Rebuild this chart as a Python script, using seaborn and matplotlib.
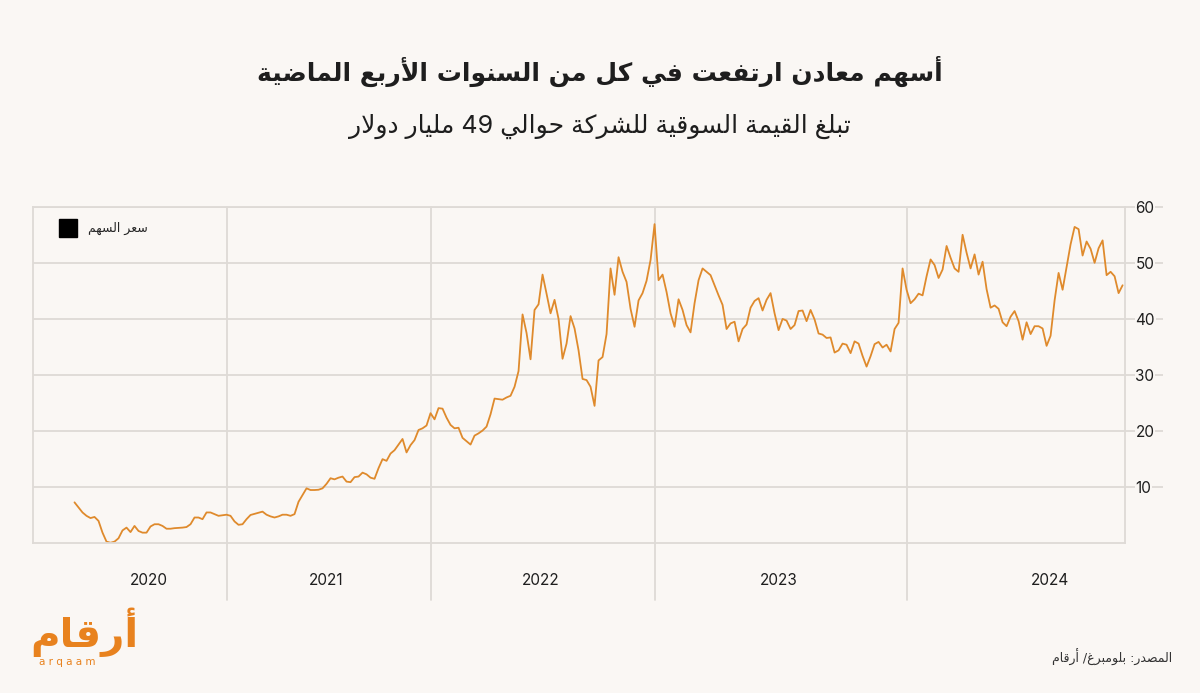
import numpy as np
import pandas as pd
import seaborn as sns
import matplotlib.pyplot as plt
from matplotlib.lines import Line2D

prices_2020 = [7.3, 6.4, 5.5, 4.9, 4.5, 4.7, 4.0, 1.9, 0.3, 0.1, 0.3, 0.9, 2.3, 2.8, 2.0, 3.1,
               2.2, 1.9, 1.9, 3.0, 3.4, 3.4, 3.1, 2.6, 2.6, 2.7, 2.75, 2.8, 2.9, 3.4, 4.6, 4.6,
               4.3, 5.5, 5.5, 5.2, 4.9, 5.0]
prices_2021 = [5.1, 4.9, 3.9, 3.3, 3.4, 4.3, 5.05, 5.25, 5.45, 5.65, 5.1, 4.8, 4.6, 4.8, 5.1,
               5.1, 4.9, 5.2, 7.4, 8.6, 9.8, 9.5, 9.5, 9.55, 9.8, 10.6, 11.6, 11.4, 11.7, 11.9,
               11.0, 10.9, 11.8, 11.9, 12.6, 12.3, 11.7, 11.5, 13.4, 15.0, 14.7, 16.0, 16.6,
               17.6, 18.6, 16.2, 17.5, 18.4, 20.2, 20.5, 21.0]
prices_2022 = [23.2, 22.1, 24.1, 24.0, 22.4, 21.1, 20.5, 20.6, 18.8, 18.2, 17.6, 19.2, 19.6,
               20.1, 20.8, 23.0, 25.8, 25.7, 25.6, 26.0, 26.3, 27.9, 30.7, 40.8, 37.5, 32.8,
               41.6, 42.6, 47.9, 44.5, 41.0, 43.4, 40.0, 32.9, 35.6, 40.5, 38.3, 34.4, 29.3,
               29.1, 27.9, 24.5, 32.6, 33.2, 37.3, 49.0, 44.3, 51.0, 48.4, 46.6, 41.8, 38.6,
               43.3, 44.6, 46.8, 50.5]
prices_2023 = [56.9, 46.9, 47.9, 44.8, 41.0, 38.6, 43.5, 41.6, 38.9, 37.6, 42.8, 46.9, 49.0,
               48.4, 47.8, 46.0, 44.2, 42.5, 38.2, 39.2, 39.5, 36.0, 38.2, 39.0, 42.0, 43.2,
               43.7, 41.5, 43.4, 44.6, 41.0, 38.0, 40.0, 39.7, 38.2, 38.9, 41.4, 41.5, 39.6,
               41.6, 39.9, 37.4, 37.2, 36.6, 36.7, 34.0, 34.4, 35.6, 35.4, 33.9, 36.0, 35.6,
               33.4, 31.5, 33.35, 35.5, 35.9, 34.9, 35.4, 34.2, 38.2, 39.3, 49.0]
prices_2024 = [45.2, 42.8, 43.5, 44.5, 44.2, 47.6, 50.6, 49.6, 47.3, 48.8, 53.0, 50.9, 49.0,
               48.4, 55.0, 51.8, 49.0, 51.5, 47.9, 50.2, 45.3, 42.0, 42.4, 41.8, 39.4, 38.7,
               40.4, 41.4, 39.6, 36.3, 39.4, 37.3, 38.7, 38.7, 38.3, 35.2, 37.0, 43.3, 48.2,
               45.2, 49.2, 53.3, 56.4, 56.0, 51.3, 53.8, 52.5, 50.0, 52.6, 54.0, 47.8, 48.4,
               47.6, 44.6, 46.0]

years = ["2020", "2021", "2022", "2023", "2024"]
yticks = [10, 20, 30, 40, 50, 60]

title = "أسهم معادن ارتفعت في كل من السنوات الأربع الماضية"
subtitle = "تبلغ القيمة السوقية للشركة حوالي 49 مليار دولار"
legend_label = "سعر السهم"
source = "المصدر: بلومبرغ/ أرقام"
logo = "أرقام"

# --- tiny arabic shaper (matplotlib has no complex text layout) ---
FORMS = {
    'ا': (0xFE8D, 2), 'أ': (0xFE83, 2), 'إ': (0xFE87, 2), 'آ': (0xFE81, 2),
    'ب': (0xFE8F, 4), 'ة': (0xFE93, 2), 'ت': (0xFE95, 4), 'ث': (0xFE99, 4),
    'ج': (0xFE9D, 4), 'ح': (0xFEA1, 4), 'خ': (0xFEA5, 4), 'د': (0xFEA9, 2),
    'ذ': (0xFEAB, 2), 'ر': (0xFEAD, 2), 'ز': (0xFEAF, 2), 'س': (0xFEB1, 4),
    'ش': (0xFEB5, 4), 'ص': (0xFEB9, 4), 'ض': (0xFEBD, 4), 'ط': (0xFEC1, 4),
    'ظ': (0xFEC5, 4), 'ع': (0xFEC9, 4), 'غ': (0xFECD, 4), 'ف': (0xFED1, 4),
    'ق': (0xFED5, 4), 'ك': (0xFED9, 4), 'ل': (0xFEDD, 4), 'م': (0xFEE1, 4),
    'ن': (0xFEE5, 4), 'ه': (0xFEE9, 4), 'و': (0xFEED, 2), 'ي': (0xFEF1, 4),
    'ى': (0xFEEF, 2),
}
LAM_ALEF = {'ا': (0xFEFB, 2), 'أ': (0xFEF7, 2), 'إ': (0xFEF9, 2), 'آ': (0xFEF5, 2)}


def shape(text):
    # merge lam-alef into ligatures
    units = []
    i = 0
    while i < len(text):
        c = text[i]
        if c == 'ل' and i + 1 < len(text) and text[i + 1] in LAM_ALEF:
            units.append(LAM_ALEF[text[i + 1]])
            i += 2
            continue
        units.append(FORMS.get(c, c))
        i += 1
    out = []
    for k, u in enumerate(units):
        if not isinstance(u, tuple):
            out.append(u)
            continue
        base, n = u
        prev = units[k - 1] if k > 0 else None
        nxt = units[k + 1] if k + 1 < len(units) else None
        jp = isinstance(prev, tuple) and prev[1] == 4
        jn = n == 4 and isinstance(nxt, tuple)
        if jp and jn:
            out.append(chr(base + 3))
        elif jn:
            out.append(chr(base + 2))
        elif jp:
            out.append(chr(base + 1))
        else:
            out.append(chr(base))
    vis = ''.join(out)[::-1]
    # keep digit runs left-to-right
    res, run = '', ''
    for ch in vis:
        if ch.isdigit():
            run += ch
        else:
            res += run[::-1] + ch
            run = ''
    return res + run[::-1]


# --- data frame ---
parts = [prices_2020, prices_2021, prices_2022, prices_2023, prices_2024]
rows = []
for yr, vals in zip(years, parts):
    for v in vals:
        rows.append((yr, v))
df = pd.DataFrame(rows, columns=["year", "price"])
df["idx"] = np.arange(len(df))
counts = df.groupby("year", sort=False).size().values
starts = np.concatenate([[0], np.cumsum(counts)[:-1]])

bg = "#FAF7F4"
grid_c = "#DEDAD6"
orange = "#DF8A2C"
ink = "#1E1E1E"

sns.set_theme(style="white")
plt.rcParams["font.family"] = ["Inter", "DejaVu Sans"]

fig = plt.figure(figsize=(12, 6.93), dpi=100, facecolor=bg)
ax = fig.add_axes([0.02775, 0.216, 0.90975, 0.4857])
ax.set_facecolor(bg)

sns.lineplot(data=df, x="idx", y="price", ax=ax, color=orange, linewidth=1.3)

ax.set_xlim(-10.3, len(df) - 0.4)
ax.set_ylim(0, 60)
ax.set_xlabel("")
ax.set_ylabel("")
ax.set_xticks([])

for y in yticks:
    ax.axhline(y, color=grid_c, lw=1.3, zorder=0)
for s in ax.spines.values():
    s.set_color(grid_c)
    s.set_linewidth(1.3)

# year separators run below the plot
for s in starts[1:]:
    ax.plot([s, s], [-0.168, 1], color=grid_c, lw=1.3, transform=ax.get_xaxis_transform(),
            clip_on=False, zorder=0)

label_pos = [(starts[i] + starts[i] + counts[i] - 1) / 2 for i in range(len(years))]
label_pos[-1] = starts[-1] + 0.65 * counts[-1]
for yr, p in zip(years, label_pos):
    ax.text(p, -0.109, yr, transform=ax.get_xaxis_transform(), ha="center", va="center",
            fontsize=11, color=ink)

ax.yaxis.tick_right()
ax.set_yticks(yticks)
ax.set_yticklabels([str(t) for t in yticks])
ax.tick_params(axis="y", length=27, width=1.3, color=grid_c, pad=-19.5, labelsize=11,
               labelcolor=ink, right=True, left=False)
for lab in ax.get_yticklabels():
    lab.set_bbox(dict(facecolor=bg, edgecolor="none", pad=0.5))

leg = ax.legend(handles=[Line2D([], [], marker="s", color="none", markerfacecolor="black",
                                markeredgecolor="black", markersize=13)],
                labels=[shape(legend_label)], loc="upper left", bbox_to_anchor=(0.016, 0.988),
                frameon=False, handlelength=1.0, handletextpad=1.1,
                prop={"family": "DejaVu Sans", "size": 9})

fig.text(0.5, 0.897, shape(title), ha="center", va="center", fontsize=18,
         fontweight="bold", color=ink, family="DejaVu Sans")
fig.text(0.5, 0.817, shape(subtitle), ha="center", va="center", fontsize=18,
         color=ink, family=["Inter", "DejaVu Sans"])
fig.text(0.977, 0.052, shape(source), ha="right", va="center", fontsize=9,
         color="#333333", family="DejaVu Sans")
fig.text(0.07, 0.088, shape(logo), ha="center", va="center", fontsize=29,
         fontweight="bold", color="#E8821E", family="DejaVu Sans")
fig.text(0.056, 0.045, "a r q a a m", ha="center", va="center", fontsize=7.5,
         color="#E8821E", family="DejaVu Sans")

fig.savefig("out.png", dpi=100, facecolor=bg)
